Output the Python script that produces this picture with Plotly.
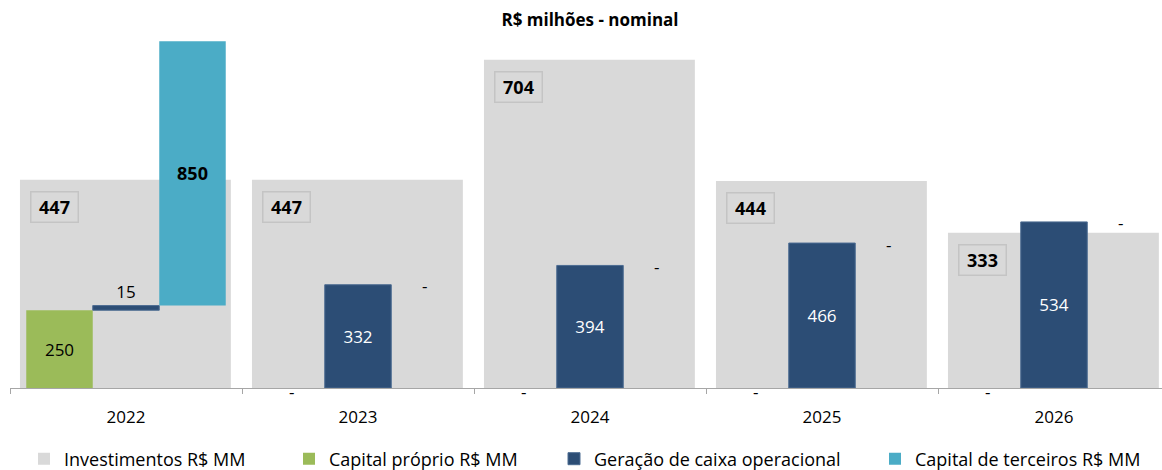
import plotly.graph_objects as go

years = ["2022", "2023", "2024", "2025", "2026"]
investimentos = [447, 447, 704, 444, 333]
capital_proprio = [250, 0, 0, 0, 0]
geracao_caixa = [15, 332, 394, 466, 534]
capital_terceiros = [850, 0, 0, 0, 0]

names = ["Investimentos R$ MM", "Capital próprio R$ MM",
         "Geração de caixa operacional", "Capital de terceiros R$ MM"]

GRAY = "#D9D9D9"
GREEN = "#9BBB59"
NAVY = "#2C4D75"
TEAL = "#4BACC6"
FONT = "Open Sans"

base_geracao = list(capital_proprio)
base_terceiros = [p + g for p, g in zip(capital_proprio, geracao_caixa)]

W, H = 1162, 470
L, R, T, B = 10, 0, 30, 82
CAT_PX = 232.0
PLOT_W = W - L - R
PLOT_H = H - T - B
x_hi = -0.5 + PLOT_W / CAT_PX

NW = 0.2866  # narrow bar width (category units)

fig = go.Figure()

fig.add_trace(go.Bar(
    x=years, y=investimentos, name=names[0],
    marker=dict(color=GRAY, line=dict(width=0)),
    width=0.909, offset=-0.457, yaxis="y", legend="legend",
    hoverinfo="skip",
))

def txt(vals):
    return [str(v) if v != 0 else "" for v in vals]

fig.add_trace(go.Bar(
    x=years, y=capital_proprio, base=[0] * len(years), name=names[1],
    marker=dict(color=GREEN, line=dict(width=0)),
    width=NW, offset=-1.5 * NW, yaxis="y2", legend="legend2",
    text=txt(capital_proprio), textposition="inside", insidetextanchor="middle",
    textangle=0, constraintext="none",
    textfont=dict(family=FONT, size=17, color="#000000"), cliponaxis=False,
))

fig.add_trace(go.Bar(
    x=years, y=geracao_caixa, base=base_geracao, name=names[2],
    marker=dict(color=NAVY, line=dict(color="#4C6C92", width=1)),
    width=NW, offset=-0.5 * NW, yaxis="y2", legend="legend3",
    text=txt(geracao_caixa),
    textposition=["outside" if v < 100 else "inside" for v in geracao_caixa],
    insidetextanchor="middle", textangle=0, constraintext="none",
    insidetextfont=dict(family=FONT, size=17, color="#FFFFFF"),
    outsidetextfont=dict(family=FONT, size=17, color="#000000"),
    cliponaxis=False,
))

fig.add_trace(go.Bar(
    x=years, y=capital_terceiros, base=base_terceiros, name=names[3],
    marker=dict(color=TEAL, line=dict(width=0)),
    width=NW, offset=0.5 * NW, yaxis="y2", legend="legend4",
    text=["<b>%d</b>" % v if v != 0 else "" for v in capital_terceiros],
    textposition="inside", insidetextanchor="middle", textangle=0,
    constraintext="none",
    textfont=dict(family=FONT, size=18, color="#000000"), cliponaxis=False,
))

annotations = []
# category axis: annotations positioned by category index
for i, v in enumerate(investimentos):
    annotations.append(dict(
        x=i, y=v, xref="x", yref="y", text="<b>%d</b>" % v, showarrow=False,
        xshift=-72, yshift=-27, font=dict(family=FONT, size=18, color="#000000"),
        bgcolor=GRAY, bordercolor="#C4C4C4", borderwidth=1.5, borderpad=2,
        width=42, height=25, xanchor="center", yanchor="middle",
    ))

px_off = NW * CAT_PX
for i in range(len(years)):
    if capital_proprio[i] == 0:
        annotations.append(dict(
            x=i, y=0, xref="x", yref="y2", text="-", showarrow=False,
            xshift=-px_off, yshift=-3, font=dict(family=FONT, size=17, color="#000000"),
            xanchor="center", yanchor="middle",
        ))
    if capital_terceiros[i] == 0:
        annotations.append(dict(
            x=i, y=base_terceiros[i], xref="x", yref="y2", text="-", showarrow=False,
            xshift=px_off, yshift=-1, font=dict(family=FONT, size=17, color="#000000"),
            xanchor="center", yanchor="middle",
        ))

def leg(xpx):
    return dict(orientation="h", xref="paper", yref="paper",
                x=(xpx - L) / PLOT_W, y=(H - B - 459) / PLOT_H,
                xanchor="left", yanchor="middle",
                font=dict(family=FONT, size=18, color="#000000"),
                bgcolor="rgba(0,0,0,0)", borderwidth=0)

fig.update_layout(
    width=W, height=H,
    margin=dict(l=L, r=R, t=T, b=B, pad=0, autoexpand=False),
    paper_bgcolor="white", plot_bgcolor="white",
    barmode="overlay",
    font=dict(family=FONT, size=17, color="#000000"),
    title=dict(text="<b>R$ milhões - nominal</b>", xref="paper", yref="container",
               x=(590 - L) / PLOT_W, y=1 - 20 / H, xanchor="center", yanchor="middle",
               font=dict(family=FONT, size=17, color="#000000")),
    xaxis=dict(type="category", range=[-0.5, x_hi], showline=True,
               linecolor="#A6A6A6", linewidth=1, ticks="outside", ticklen=5,
               tickcolor="#A6A6A6", tickson="boundaries", showgrid=False,
               zeroline=False, ticklabelstandoff=14,
               tickfont=dict(family=FONT, size=17, color="#000000")),
    yaxis=dict(range=[0, 768], visible=False, showgrid=False, zeroline=False),
    yaxis2=dict(range=[0, 1151], visible=False, showgrid=False, zeroline=False,
                overlaying="y"),
    showlegend=True,
    legend=leg(24),
    legend2=leg(289),
    legend3=leg(554),
    legend4=leg(875),
    annotations=annotations,
)

fig.write_html(
    "out.html",
    config={"displayModeBar": False},
    post_script="document.body.style.margin='0';document.body.style.padding='0';",
)
